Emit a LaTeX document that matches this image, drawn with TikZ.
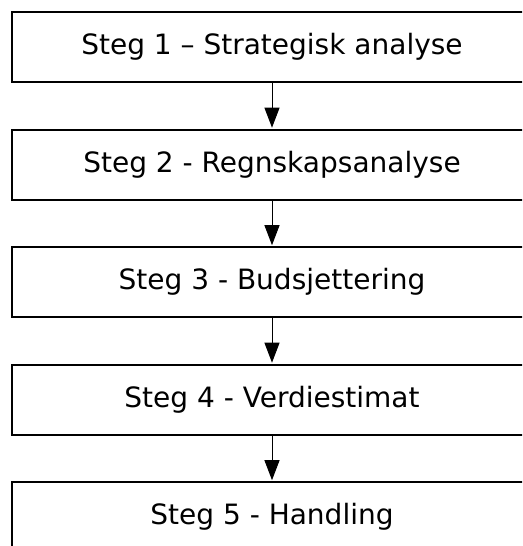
\documentclass[tikz,border=0pt]{standalone}
\usepackage{fontspec}
\setmainfont{DejaVu Sans}
\usetikzlibrary{arrows.meta,positioning}

\begin{document}
\begin{tikzpicture}[
  x=1pt, y=1pt,
  box/.style={draw, line width=2pt, minimum width=520pt, minimum height=70pt,
    inner sep=0pt, font=\fontsize{28}{32}\selectfont},
  arr/.style={-{Triangle[width=15pt,length=20pt]}, line width=1pt, shorten >=0.8pt},
  node distance=45.5pt
]
\clip (0,0) rectangle (522,-546);
\node[box] at (272,-47) (s1) {Steg 1 – Strategisk analyse};
\node[box, below=of s1] (s2) {Steg 2 - Regnskapsanalyse};
\node[box, below=of s2] (s3) {Steg 3 - Budsjettering};
\node[box, below=of s3] (s4) {Steg 4 - Verdiestimat};
\node[box, below=of s4] (s5) {Steg 5 - Handling};

\draw[arr] (s1) -- (s2);
\draw[arr] (s2) -- (s3);
\draw[arr] (s3) -- (s4);
\draw[arr] (s4) -- (s5);
\end{tikzpicture}
\end{document}
